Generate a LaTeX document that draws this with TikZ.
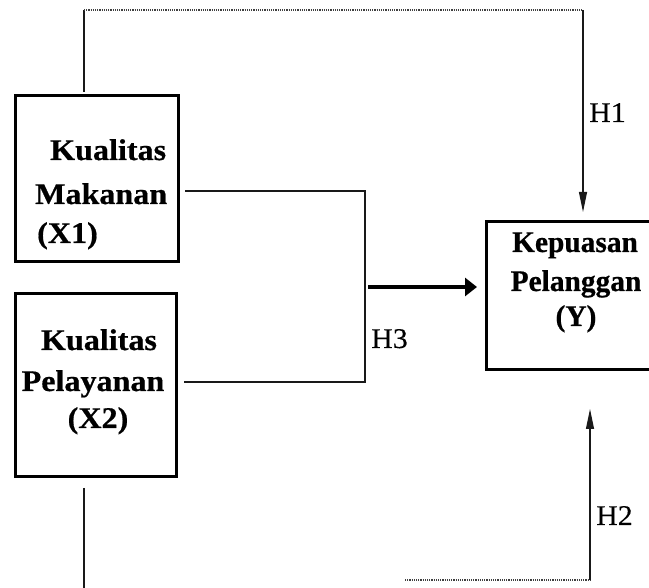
\documentclass[tikz,border=0pt]{standalone}
\usepackage{fontspec}
\setmainfont{Liberation Serif}[FakeStretch=1.05, FakeBold=0.3]
\newfontfamily\boldlbl{Liberation Serif Bold}[FakeStretch=1.07, FakeBold=0.6]
\newfontfamily\boldlbly{Liberation Serif Bold}[FakeStretch=0.98, FakeBold=0.6]
\usetikzlibrary{arrows.meta}
\begin{document}
\begin{tikzpicture}[x=1pt,y=-1pt,
  box/.style={draw, line width=2.3pt, inner sep=0pt, outer sep=0pt},
  bt/.style={font=\fontsize{30}{32}\boldlbl, inner sep=0pt, anchor=base},
  bty/.style={font=\fontsize{30}{32}\boldlbly, inner sep=0pt, anchor=base},
  btl/.style={bt, anchor=base west},
  ht/.style={font=\fontsize{28.5}{30}\selectfont, inner sep=0pt, anchor=base west},
  conn/.style={line width=1.1pt, black!90},
  dotline/.style={line width=1.2pt, black!75, densely dotted},
  thinarrow/.style={conn, -{Triangle[length=20pt,width=8pt]}},
  thickarrow/.style={line width=3.4pt, -{Triangle[length=12pt,width=18pt]}}
]
\useasboundingbox (0,0) rectangle (649,588);
\clip (0,0) rectangle (649,588);

% boxes
\node[box, minimum width=163pt, minimum height=166pt] (x1) at (97,178.5) {};
\node[box, minimum width=161pt, minimum height=183pt] (x2) at (96,385) {};
\node[box, minimum width=165pt, minimum height=148pt] (y) at (569,295.5) {};

% box texts
\node[btl] (x1a) at (50,160) {Kualitas};
\node[btl] (x1b) at (35,204) {Makanan};
\node[btl] (x1c) at (37,243) {(X1)};
\node[bt] (x2a) at (99,350) {Kualitas};
\node[bt] (x2b) at (93,391) {Pelayanan};
\node[bt] (x2c) at (98,428) {(X2)};
\node[bty] (ya) at (575,252) {Kepuasan};
\node[bty] (yb) at (576,291) {Pelanggan};
\node[bty] (yc) at (576,326) {(Y)};

% hypothesis labels
\node[ht] (h1) at (589,122) {H1};
\node[ht] (h3) at (371,348) {H3};
\node[ht] (h2) at (596,525) {H2};

% H1 connector
\coordinate (t0) at (84,92);
\coordinate (t1) at (84,10);
\coordinate (t2) at (583,10);
\coordinate (t3) at (583,212);
\draw[conn] (t0) -- (t1);
\draw[dotline] (t1) -- (t2);
\draw[thinarrow] (t2) -- (t3);

% H3 connector
\coordinate (m1) at (185,191);
\coordinate (m2) at (365,191);
\coordinate (m3) at (365,382);
\coordinate (m4) at (184,382);
\draw[conn] (m1) -- (m2) -- (m3) -- (m4);
\coordinate (k1) at (368,287);
\coordinate (k2) at (477,287);
\draw[thickarrow] (k1) -- (k2);

% H2 connector
\coordinate (b0) at (84,488);
\coordinate (b1) at (84,590);
\draw[conn] (b0) -- (b1);
\coordinate (b2) at (405,580);
\coordinate (b3) at (590,580);
\coordinate (b4) at (590,409);
\draw[dotline] (b2) -- (b3);
\draw[thinarrow] (b3) -- (b4);
\end{tikzpicture}
\end{document}
